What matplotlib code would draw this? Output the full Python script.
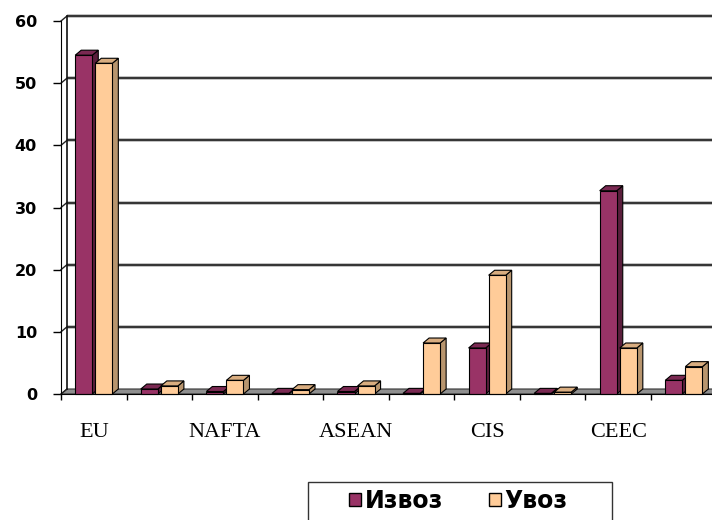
import matplotlib
matplotlib.use("Agg")
import matplotlib.pyplot as plt
from matplotlib.patches import Polygon, Rectangle, Patch

# Data
tick_labels = ["EU", "", "NAFTA", "", "ASEAN", "", "CIS", "", "CEEC", ""]
izvoz = [54.5, 0.8, 0.4, 0.1, 0.4, 0.1, 7.4, 0.1, 32.7, 2.2]
uvoz = [53.2, 1.3, 2.2, 0.7, 1.3, 8.2, 19.1, 0.3, 7.4, 4.4]
series_names = ["Извоз", "Увоз"]
y_ticks = [0, 10, 20, 30, 40, 50, 60]

# Styling
front_colors = ["#993366", "#FFCC99"]
top_colors = ["#7a2952", "#d9ad80"]
side_colors = ["#5a1e3c", "#b8956e"]
W, H, DPI = 712, 520, 100

fig = plt.figure(figsize=(W / DPI, H / DPI), dpi=DPI)
fig.patch.set_facecolor("white")

ax_left, ax_bottom, ax_right, ax_top = 61, 394, 712, 21  # pixel edges
ax = fig.add_axes([ax_left / W, 1 - ax_bottom / H,
                   (ax_right - ax_left) / W, (ax_bottom - ax_top) / H])
n = len(tick_labels)
cat_px = 65.56
xmax = (ax_right - ax_left) / cat_px
ax.set_xlim(0, xmax)
ax.set_ylim(0, 60)
ax.set_facecolor("none")

px_per_unit = (ax_bottom - ax_top) / 60.0
dx = 6 / cat_px          # depth offset (x, data units)
dy = 5 / px_per_unit     # depth offset (y, data units)

# Floor
floor = Polygon([(0, 0), (xmax + 1, 0), (xmax + 1 + dx, dy), (dx, dy)],
                closed=True, facecolor="#8f8f8f", edgecolor="#333333",
                lw=0.8, clip_on=False, zorder=1)
ax.add_patch(floor)

# Back wall gridlines and side-wall diagonals
for v in y_ticks[1:]:
    ax.plot([dx, xmax + 1], [v + dy, v + dy], color="#b5b5b5", lw=2.6,
            solid_capstyle="butt", clip_on=False, zorder=2)
    ax.plot([dx, xmax + 1], [v + dy, v + dy], color="#333333", lw=1.4,
            solid_capstyle="butt", clip_on=False, zorder=2)
for v in y_ticks:
    ax.plot([0, dx], [v, v + dy], color="#222222", lw=1.0, clip_on=False, zorder=2)
# Back wall left edge
ax.plot([dx, dx], [dy, 60 + dy], color="#111111", lw=1.2, clip_on=False, zorder=2)

# 3D-style columns
bar_w = 0.26
gap = 0.046
centers = [i + 0.5 for i in range(n)]
z = 3
for i, c in enumerate(centers):
    for s, vals in enumerate([izvoz, uvoz]):
        x0 = c - gap / 2 - bar_w if s == 0 else c + gap / 2
        x1 = x0 + bar_w
        h = vals[i]
        side = Polygon([(x1, 0), (x1 + dx, dy), (x1 + dx, h + dy), (x1, h)],
                       closed=True, facecolor=side_colors[s], edgecolor="black",
                       lw=0.8, clip_on=False, zorder=z)
        top = Polygon([(x0, h), (x1, h), (x1 + dx, h + dy), (x0 + dx, h + dy)],
                      closed=True, facecolor=top_colors[s], edgecolor="black",
                      lw=0.8, clip_on=False, zorder=z)
        ax.add_patch(side)
        ax.add_patch(top)
        ax.bar(x0, h, width=bar_w, align="edge", color=front_colors[s],
               edgecolor="black", lw=0.8, zorder=z + 0.5, clip_on=False)
        z += 1

# Axes lines and ticks
for sp in ["top", "right"]:
    ax.spines[sp].set_visible(False)
ax.spines["left"].set_color("black")
ax.spines["bottom"].set_color("black")
ax.spines["left"].set_zorder(50)
ax.spines["bottom"].set_zorder(50)

ax.set_yticks(y_ticks)
ax.set_yticklabels([str(v) for v in y_ticks], fontsize=11.5, fontweight="bold",
                   family="DejaVu Sans")
ax.tick_params(axis="y", direction="out", length=5.8, width=1, pad=11.5)

ax.set_xticks(list(range(0, n)))
ax.set_xticklabels([""] * n)
ax.tick_params(axis="x", which="major", direction="out", length=4.3, width=1)
ax.set_xticks(centers, minor=True)
ax.set_xticklabels(tick_labels, minor=True, fontsize=16, family="Liberation Serif")
ax.tick_params(axis="x", which="minor", length=0, pad=20.7)

# Legend
handles = [Patch(facecolor=front_colors[k], edgecolor="black", lw=1) for k in range(2)]
frame = Rectangle((308 / W, 1 - 526 / H), 304 / W, 44 / H, transform=fig.transFigure,
                  facecolor="white", edgecolor="#333333", lw=1.0, zorder=0)
fig.patches.append(frame)
leg = fig.legend(handles, series_names, loc="center left",
                 bbox_to_anchor=(349 / W, 1 - 501 / H), ncol=2, frameon=False,
                 prop=dict(family="DejaVu Sans", weight="bold", size=17),
                 handlelength=0.51, handleheight=0.51, handletextpad=0.15,
                 columnspacing=1.95, borderpad=0, borderaxespad=0)

fig.savefig("out.png", dpi=DPI)
